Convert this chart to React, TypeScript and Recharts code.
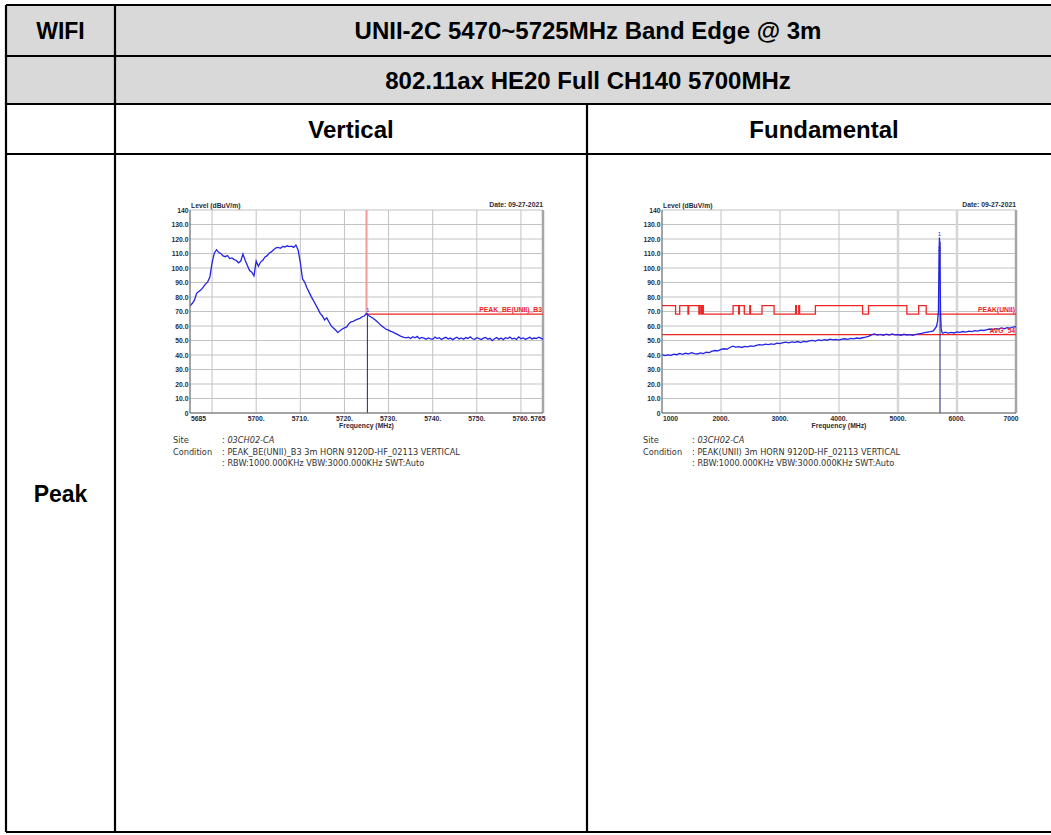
import React from 'react';
import { LineChart, Line, XAxis, YAxis, CartesianGrid, ReferenceLine, ReferenceDot } from 'recharts';

const FONT = '"Liberation Sans", Arial, Helvetica, sans-serif';

// ---------- Header texts ----------
const headerTitle = 'UNII-2C 5470~5725MHz Band Edge @ 3m';
const headerMode = '802.11ax HE20 Full CH140 5700MHz';
const headerBand = 'WIFI';
const colLeft = 'Vertical';
const colRight = 'Fundamental';
const rowLabel = 'Peak';

// ---------- Shared axis ----------
const yTicks = [0, 10, 20, 30, 40, 50, 60, 70, 80, 90, 100, 110, 120, 130, 140];
const yLabels = ['0', '10.0', '20.0', '30.0', '40.0', '50.0', '60.0', '70.0', '80.0', '90.0', '100.0', '110.0', '120.0', '130.0', '140'];

// ---------- Chart 1 (Vertical, band edge) ----------
const vertXTicks = [5685, 5690, 5700, 5710, 5720, 5730, 5740, 5750, 5760, 5765];
const vertXLabels = ['5685', '', '5700.', '5710.', '5720.', '5730.', '5740.', '5750.', '5760.', '5765'];
const vertTrace: [number, number][] = [
  [5685, 73.9], [5685.5, 75.5], [5686, 77.8], [5686.5, 82.5], [5687, 83.8], [5687.5, 84.9], [5688, 86.8], [5688.5, 88.9],
  [5689, 90.4], [5689.5, 93.8], [5690, 103.5], [5690.5, 110.2], [5691, 112.6], [5691.5, 110.8], [5692, 109.9], [5692.5, 108.4],
  [5693, 107.8], [5693.5, 108.6], [5694, 106.5], [5694.5, 106.9], [5695, 105.8], [5695.5, 105.2], [5696, 103.6], [5696.5, 104.8],
  [5697, 109.6], [5697.5, 105.4], [5698, 101.8], [5698.5, 98.2], [5699, 97.1], [5699.5, 94.6], [5700, 104.8], [5700.5, 101.2],
  [5701, 104.1], [5701.5, 105.3], [5702, 107.6], [5702.5, 108.5], [5703, 110.4], [5703.5, 111.3], [5704, 112.8], [5704.5, 113.9],
  [5705, 114.2], [5705.5, 113.6], [5706, 114.9], [5706.5, 114.5], [5707, 115.3], [5707.5, 114.7], [5708, 115.1], [5708.5, 114.2],
  [5709, 115.8], [5709.5, 112.4], [5710, 103.8], [5710.5, 92.5], [5711, 90.1], [5711.5, 86.4], [5712, 83.2], [5712.5, 80.1],
  [5713, 77.4], [5713.5, 74.6], [5714, 71.8], [5714.5, 68.7], [5715, 66.9], [5715.5, 64.2], [5716, 65.6], [5716.5, 62.8],
  [5717, 60.1], [5717.5, 58.6], [5718, 57.2], [5718.5, 55.4], [5719, 56.8], [5719.5, 57.9], [5720, 58.7], [5720.5, 59.4],
  [5721, 61.6], [5721.5, 62.9], [5722, 63.2], [5722.5, 64.1], [5723, 64.8], [5723.5, 65.3], [5724, 66.4], [5724.5, 66.9],
  [5725, 68.6], [5725.5, 67.3], [5726, 66.2], [5726.5, 65.4], [5727, 64.1], [5727.5, 62.7], [5728, 61.3], [5728.5, 59.9],
  [5729, 58.8], [5729.5, 57.6], [5730, 57.1], [5730.5, 56.3], [5731, 55.8], [5731.5, 54.9], [5732, 54.2], [5732.5, 53.4],
  [5733, 52.6], [5733.5, 52.1], [5734, 51.8], [5734.5, 52.3], [5735, 51.4], [5735.5, 52.6], [5736, 51.9], [5736.5, 52.8],
  [5737, 51.2], [5737.5, 52.1], [5738, 51.6], [5738.5, 50.9], [5739, 51.8], [5739.5, 51.1], [5740, 50.8], [5740.5, 52.4],
  [5741, 51.3], [5741.5, 51.9], [5742, 50.7], [5742.5, 51.6], [5743, 52.2], [5743.5, 51.0], [5744, 51.7], [5744.5, 50.6],
  [5745, 51.5], [5745.5, 52.3], [5746, 51.1], [5746.5, 51.8], [5747, 50.9], [5747.5, 52.0], [5748, 51.4], [5748.5, 52.6],
  [5749, 51.2], [5749.5, 50.8], [5750, 51.9], [5750.5, 51.3], [5751, 50.7], [5751.5, 51.6], [5752, 52.1], [5752.5, 50.9],
  [5753, 51.5], [5753.5, 49.9], [5754, 51.2], [5754.5, 52.0], [5755, 50.8], [5755.5, 51.7], [5756, 50.6], [5756.5, 51.9],
  [5757, 51.3], [5757.5, 52.4], [5758, 51.0], [5758.5, 51.6], [5759, 50.7], [5759.5, 52.5], [5760, 51.2], [5760.5, 51.8],
  [5761, 50.9], [5761.5, 51.5], [5762, 52.2], [5762.5, 51.1], [5763, 51.7], [5763.5, 51.3], [5764, 52.3], [5764.5, 51.6],
  [5765, 50.8],
];
const vertLimitLevel = 68.2;
const vertEdgeFreq = 5725;
const vertMarkerFreq = 5725.2;
const vertMarkerLevel = 68.6;
const vertLimitName = 'PEAK_BE(UNII)_B3';

// ---------- Chart 2 (Fundamental) ----------
const fundXTicks = [1000, 2000, 3000, 4000, 5000, 6000, 7000];
const fundXLabels = ['1000', '2000.', '3000.', '4000.', '5000.', '6000.', '7000'];
const fundTrace: [number, number][] = [
  [1000, 40.3], [1050, 39.6], [1100, 40.1], [1150, 39.8], [1200, 40.6], [1250, 40.2], [1300, 41.1], [1350, 40.5],
  [1400, 41.2], [1450, 40.8], [1500, 41.6], [1550, 40.9], [1600, 40.7], [1650, 41.5], [1700, 41.0], [1750, 41.9],
  [1800, 41.6], [1850, 42.7], [1900, 43.1], [1950, 42.8], [2000, 43.9], [2050, 44.3], [2100, 44.0], [2150, 45.2],
  [2200, 46.1], [2250, 45.4], [2300, 45.8], [2350, 45.2], [2400, 46.0], [2450, 45.6], [2500, 46.3], [2550, 45.9],
  [2600, 46.7], [2650, 47.2], [2700, 46.8], [2750, 47.5], [2800, 47.1], [2850, 47.6], [2900, 47.3], [2950, 48.2],
  [3000, 47.8], [3050, 48.6], [3100, 48.9], [3150, 48.4], [3200, 49.1], [3250, 48.7], [3300, 49.3], [3350, 48.6],
  [3400, 49.4], [3450, 49.0], [3500, 49.8], [3550, 50.1], [3600, 49.6], [3650, 50.4], [3700, 50.0], [3750, 50.6],
  [3800, 50.2], [3850, 50.9], [3900, 50.4], [3950, 50.7], [4000, 50.3], [4050, 50.9], [4100, 51.2], [4150, 50.8],
  [4200, 51.5], [4250, 51.1], [4300, 51.7], [4350, 51.4], [4400, 51.9], [4450, 52.3], [4500, 52.8], [4550, 53.9],
  [4600, 54.6], [4650, 53.7], [4700, 54.2], [4750, 53.5], [4800, 54.4], [4850, 53.8], [4900, 54.5], [4950, 53.9],
  [5000, 54.1], [5050, 53.6], [5100, 54.3], [5150, 53.8], [5200, 54.0], [5250, 53.5], [5300, 54.2], [5350, 54.6],
  [5400, 54.9], [5450, 55.4], [5500, 55.8], [5550, 56.1], [5600, 56.6], [5650, 59.5], [5670, 63.0], [5685, 70.0],
  [5695, 108.0], [5702, 121.0], [5708, 116.0], [5714, 92.0], [5722, 68.0], [5732, 58.0], [5745, 55.6], [5760, 55.0],
  [5800, 55.8], [5850, 55.1], [5900, 55.6], [5950, 55.2], [6000, 55.9], [6050, 55.6], [6100, 56.2], [6150, 55.8],
  [6200, 56.4], [6250, 56.1], [6300, 56.8], [6350, 56.5], [6400, 57.1], [6450, 56.9], [6500, 57.4], [6550, 57.9],
  [6600, 57.3], [6650, 58.2], [6700, 57.8], [6750, 58.6], [6800, 58.1], [6850, 58.9], [6900, 58.5], [6950, 59.3],
  [7000, 59.6],
];
const fundLimit: [number, number][] = [
  [1000, 74], [1230, 68.2], [1300, 74], [1440, 68.2], [1452, 74], [1625, 68.2], [1640, 74], [1665, 68.2],
  [1680, 74], [1700, 68.2], [2205, 74], [2300, 68.2], [2312, 74], [2395, 68.2], [2488, 74], [2500, 68.2],
  [2695, 74], [2900, 68.2], [3265, 74], [3278, 68.2], [3318, 74], [3332, 68.2], [3600, 74], [4400, 68.2],
  [4500, 74], [5150, 68.2], [5350, 74], [5478, 68.2], [7000, 68.2],
];
const fundAvgLevel = 54;
const fundMarkerFreq = 5712;
const fundMarker1 = [5702, 121];
const fundMarker2 = [5702, 113];
const fundPeakName = 'PEAK(UNII)';
const fundAvgName = 'AVG_54';

// ---------- Info texts ----------
const siteName = '03CH02-CA';
const vertCondition = 'PEAK_BE(UNII)_B3 3m HORN 9120D-HF_02113 VERTICAL';
const fundCondition = 'PEAK(UNII) 3m HORN 9120D-HF_02113 VERTICAL';
const rbwText = 'RBW:1000.000KHz VBW:3000.000KHz SWT:Auto';
const dateText = 'Date: 09-27-2021';
const levelText = 'Level (dBuV/m)';
const freqText = 'Frequency (MHz)';

const toRows = (pairs: [number, number][]) => pairs.map(([f, v]) => ({ f, v }));

const AXIS_TXT = '#2a2a3a';
const BLUE = '#2323e6';
const RED = '#f02424';

const YTick = (p: any) => {
  const v = p.payload.value;
  const lbl = yLabels[yTicks.indexOf(v)] ?? '';
  return (
    <text x={p.x - 1.5} y={p.y + 2.5} textAnchor="end" fontSize={6.8} fontWeight="bold" fill={AXIS_TXT} fontFamily={FONT}>
      {lbl}
    </text>
  );
};

const makeXTick = (ticks: number[], labels: string[]) => (p: any) => {
  const v = p.payload.value;
  const i = ticks.indexOf(v);
  const lbl = labels[i] ?? '';
  const last = i === ticks.length - 1;
  const anchor = i === 0 ? 'start' : last ? 'end' : 'middle';
  return (
    <text x={p.x + (i === 0 ? 1 : last ? 2.5 : 0)} y={p.y + 7.5} textAnchor={anchor} fontSize={6.8} fontWeight="bold" fill={AXIS_TXT} fontFamily={FONT}>
      {lbl}
    </text>
  );
};

const dotLabel = (text: string, color: string, anchor: string, dx: number, dy: number, size = 7, bold = true) => (props: any) => {
  const vb = props.viewBox || {};
  const x = (vb.x ?? 0) + (vb.width ?? 0) / 2 + dx;
  const y = (vb.y ?? 0) + (vb.height ?? 0) / 2 + dy;
  return (
    <text x={x} y={y} textAnchor={anchor as any} fill={color} fontSize={size} fontWeight={bold ? 'bold' : 'normal'} fontFamily={FONT}>
      {text}
    </text>
  );
};

function VerticalChart() {
  return (
    <LineChart width={400} height={240} margin={{ top: 15, right: 17, left: 0, bottom: 0 }}>
      <CartesianGrid stroke="#c2c2c2" strokeWidth={1} />
      <XAxis dataKey="f" type="number" domain={[5685, 5765]} ticks={vertXTicks} interval={0} tick={makeXTick(vertXTicks, vertXLabels)}
        tickLine={false} tickSize={0} tickMargin={0} height={22} axisLine={{ stroke: '#666' }} allowDataOverflow />
      <YAxis type="number" domain={[0, 140]} ticks={yTicks} interval={0} tick={YTick} tickLine={false} tickSize={0} tickMargin={0}
        width={30} axisLine={{ stroke: '#666' }} allowDataOverflow />
      <ReferenceLine x={5765} stroke="#a6a6a6" strokeWidth={2.5} />
      <ReferenceLine segment={[{ x: vertEdgeFreq, y: vertLimitLevel }, { x: vertEdgeFreq, y: 140 }]} stroke="#f29a9a" strokeWidth={2} />
      <ReferenceLine segment={[{ x: vertEdgeFreq, y: vertLimitLevel }, { x: 5765, y: vertLimitLevel }]} stroke={RED} strokeWidth={1.2} />
      <ReferenceLine segment={[{ x: vertMarkerFreq, y: 0 }, { x: vertMarkerFreq, y: vertMarkerLevel }]} stroke="#22227a" strokeWidth={1} />
      <Line data={toRows(vertTrace)} dataKey="v" type="linear" dot={false} stroke={BLUE} strokeWidth={1.3} isAnimationActive={false} />
      <ReferenceDot x={5765} y={vertLimitLevel} r={0} fill="none" stroke="none" label={dotLabel(vertLimitName, RED, 'end', -1, -2.5, 6.8)} />
      <ReferenceDot x={vertMarkerFreq} y={vertMarkerLevel} r={0} fill="none" stroke="none" label={dotLabel('1', BLUE, 'middle', 0.5, -1.5, 5.5, false)} />
    </LineChart>
  );
}

function FundamentalChart() {
  return (
    <LineChart width={400} height={240} margin={{ top: 15, right: 14, left: 0, bottom: 0 }}>
      <CartesianGrid stroke="#c2c2c2" strokeWidth={1} />
      <XAxis dataKey="f" type="number" domain={[1000, 7000]} ticks={fundXTicks} interval={0} tick={makeXTick(fundXTicks, fundXLabels)}
        tickLine={false} tickSize={0} tickMargin={0} height={22} axisLine={{ stroke: '#666' }} allowDataOverflow />
      <YAxis type="number" domain={[0, 140]} ticks={yTicks} interval={0} tick={YTick} tickLine={false} tickSize={0} tickMargin={0}
        width={32} axisLine={{ stroke: '#666' }} allowDataOverflow />
      <ReferenceLine x={5000} stroke="#d6d6d6" strokeWidth={2.5} />
      <ReferenceLine x={6000} stroke="#d6d6d6" strokeWidth={2.5} />
      <ReferenceLine x={7000} stroke="#a6a6a6" strokeWidth={2.5} />
      <ReferenceLine y={fundAvgLevel} stroke={RED} strokeWidth={1.3} />
      <ReferenceDot x={7000} y={fundAvgLevel} r={0} fill="none" stroke="none" label={dotLabel(fundAvgName, RED, 'end', -1, -2, 6.8)} />
      <Line data={toRows(fundLimit)} dataKey="v" type="stepAfter" dot={false} stroke={RED} strokeWidth={1.3} isAnimationActive={false} />
      <ReferenceLine segment={[{ x: fundMarkerFreq, y: 0 }, { x: fundMarkerFreq, y: 118 }]} stroke="#22227a" strokeWidth={1} />
      <Line data={toRows(fundTrace)} dataKey="v" type="linear" dot={false} stroke={BLUE} strokeWidth={1.3} isAnimationActive={false} />
      <ReferenceDot x={7000} y={68.2} r={0} fill="none" stroke="none" label={dotLabel(fundPeakName, RED, 'end', -1, -2.5, 6.8)} />
      <ReferenceDot x={fundMarker1[0]} y={fundMarker1[1]} r={0} fill="none" stroke="none" label={dotLabel('1', BLUE, 'middle', 0, -1.5, 6, false)} />
      <ReferenceDot x={fundMarker2[0]} y={fundMarker2[1]} r={0} fill="none" stroke="none" label={dotLabel('2', BLUE, 'middle', 0, 2, 6, false)} />
    </LineChart>
  );
}

// Table geometry
const T = { left: 6, c1: 115, c2: 587, right: 1061, top: 5, r1: 56, r2: 104, r3: 154, bottom: 832 };

function InfoBlock({ x, colonX, y, condition }: { x: number; colonX: number; y: number; condition: string }) {
  const st = { fontSize: 8.2, fill: '#333', fontFamily: '"DejaVu Sans", "Liberation Sans", sans-serif' } as any;
  return (
    <g>
      <text x={x} y={y} {...st}>Site</text>
      <text x={colonX} y={y} {...st}>: <tspan fontStyle="italic">{siteName}</tspan></text>
      <text x={x} y={y + 11.5} {...st}>Condition</text>
      <text x={colonX} y={y + 11.5} {...st}>: {condition}</text>
      <text x={colonX} y={y + 23} {...st}>: {rbwText}</text>
    </g>
  );
}

export default function App() {
  const hdr = { fontSize: 24, fontWeight: 'bold', fill: '#000', fontFamily: FONT, textAnchor: 'middle' } as any;
  const small = { fontSize: 6.8, fontWeight: 'bold', fill: AXIS_TXT, fontFamily: FONT } as any;
  const line = (x1: number, y1: number, x2: number, y2: number) => (
    <line x1={x1} y1={y1} x2={x2} y2={y2} stroke="#000" strokeWidth={2.2} />
  );
  return (
    <div style={{ position: 'absolute', left: 0, top: 0, width: 1051, height: 835, overflow: 'hidden', background: '#fff' }}>
      <svg width={1051} height={835} style={{ position: 'absolute', left: 0, top: 0 }}>
        <rect x={T.left} y={T.top} width={T.right - T.left} height={T.r2 - T.top} fill="#d9d9d9" />
        {line(T.left, T.top, T.right, T.top)}
        {line(T.left, T.r1, T.right, T.r1)}
        {line(T.left, T.r2, T.right, T.r2)}
        {line(T.left, T.r3, T.right, T.r3)}
        {line(T.left, T.bottom, T.right, T.bottom)}
        {line(T.left, T.top, T.left, T.bottom)}
        {line(T.c1, T.top, T.c1, T.bottom)}
        {line(T.c2, T.r2, T.c2, T.bottom)}
        <text x={(T.left + T.c1) / 2} y={(T.top + T.r1) / 2 + 8.5} {...hdr} fontSize={23}>{headerBand}</text>
        <text x={(T.c1 + T.right) / 2} y={(T.top + T.r1) / 2 + 8.5} {...hdr}>{headerTitle}</text>
        <text x={(T.c1 + T.right) / 2} y={(T.r1 + T.r2) / 2 + 8.5} {...hdr}>{headerMode}</text>
        <text x={(T.c1 + T.c2) / 2} y={(T.r2 + T.r3) / 2 + 8.5} {...hdr}>{colLeft}</text>
        <text x={(T.c2 + T.right) / 2} y={(T.r2 + T.r3) / 2 + 8.5} {...hdr}>{colRight}</text>
        <text x={(T.left + T.c1) / 2} y={(T.r3 + T.bottom) / 2 + 8.5} {...hdr} fontSize={23}>{rowLabel}</text>

        <text x={191} y={208} {...small}>{levelText}</text>
        <text x={543} y={207} {...small} textAnchor="end">{dateText}</text>
        <text x={366.5} y={428} {...small} textAnchor="middle">{freqText}</text>
        <InfoBlock x={173} colonX={222} y={443} condition={vertCondition} />

        <text x={663} y={208} {...small}>{levelText}</text>
        <text x={1016} y={207} {...small} textAnchor="end">{dateText}</text>
        <text x={839} y={428} {...small} textAnchor="middle">{freqText}</text>
        <InfoBlock x={643} colonX={692} y={443} condition={fundCondition} />
      </svg>
      <div style={{ position: 'absolute', left: 160, top: 195 }}>
        <VerticalChart />
      </div>
      <div style={{ position: 'absolute', left: 630, top: 195 }}>
        <FundamentalChart />
      </div>
    </div>
  );
}
